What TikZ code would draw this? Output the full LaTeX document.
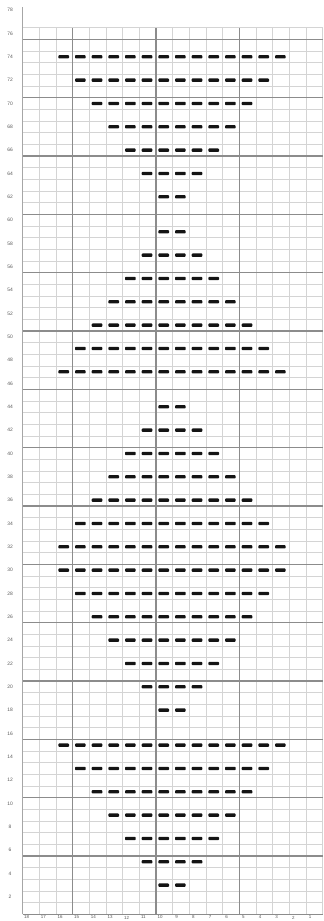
\documentclass[tikz,border=0pt]{standalone}
\usepackage{fontspec}
\setmainfont{Liberation Sans}
\usepackage{xcolor}
\definecolor{minorgrid}{HTML}{D4D4D4}
\definecolor{majorgrid}{HTML}{8C8C8C}
\definecolor{axisgray}{HTML}{A6A6A6}
\definecolor{labelgray}{HTML}{595959}
\definecolor{purlink}{HTML}{141414}

\begin{document}
\begin{tikzpicture}[x=5mm,y=3.5mm,
minor/.style={draw=minorgrid,line width=0.6pt},
major/.style={draw=majorgrid,line width=1.1pt},
axis/.style={draw=axisgray,line width=0.7pt},
purl/.style={fill=purlink,rounded corners=0.25mm},
rowlbl/.style={font=\fontsize{4.2}{5}\selectfont,text=labelgray,inner sep=0pt},
collbl/.style={font=\fontsize{3.8}{4}\selectfont,text=labelgray,inner sep=0pt}]
\useasboundingbox (-1.362,-0.574) rectangle (18.018,78.37);
% grid
\foreach \j in {0,...,76} \draw[minor] (0,\j) -- (18,\j);
\foreach \i in {1,...,18} \draw[minor] (\i,0) -- (\i,76);
\foreach \j in {0,5,...,75} \draw[major] (0,\j) -- (18,\j);
\foreach \i in {3,8,13} \draw[major] (\i,0) -- (\i,76);
\draw[axis] (0,0) -- (0,77.8);
% purl rows: row/half-count
\foreach \r/\n in {74/7,72/6,70/5,68/4,66/3,64/2,62/1,
                   59/1,57/2,55/3,53/4,51/5,49/6,47/7,
                   44/1,42/2,40/3,38/4,36/5,34/6,32/7,
                   30/7,28/6,26/5,24/4,22/3,20/2,18/1,
                   15/7,13/6,11/5,9/4,7/3,5/2,3/1} {
  \pgfmathtruncatemacro\m{2*\n}
  \foreach \k in {1,...,\m}
    \fill[purl] ({9-\n+\k-0.86},{\r-0.643}) rectangle ({9-\n+\k-0.22},{\r-0.357});
}
% labels
\foreach \r in {2,4,...,78} \node[rowlbl] (row\r) at (-0.76,\r-0.5) {\r};
\foreach \k in {1,...,18} {
  \pgfmathtruncatemacro\c{19-\k}
  \node[collbl] (col\c) at (\k-0.76,-0.27) {\c};
}
\end{tikzpicture}
\end{document}
